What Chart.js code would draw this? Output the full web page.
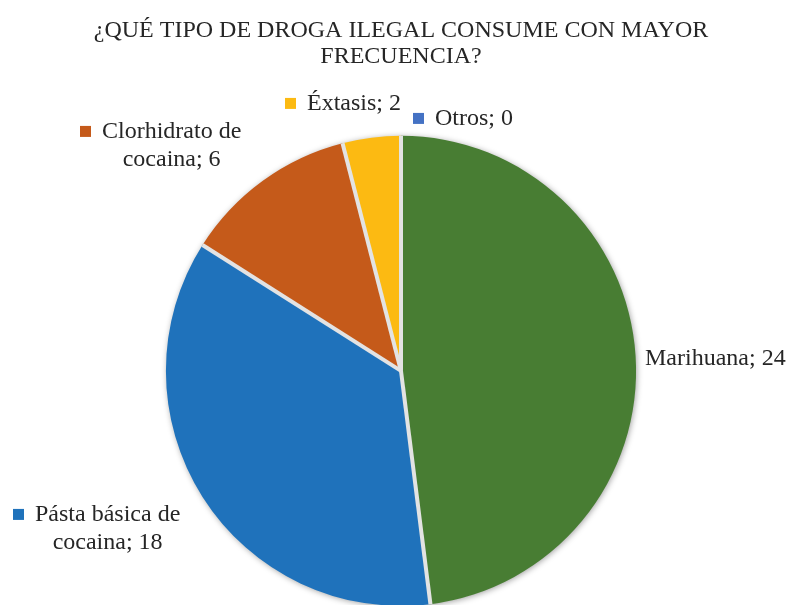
<!DOCTYPE html>
<html>
<head>
<meta charset="utf-8">
<script src="https://cdn.jsdelivr.net/npm/chart.js@4.4.0/dist/chart.umd.min.js"></script>
<style>
    html, body { margin: 0; padding: 0; background: #ffffff; overflow: hidden; }
    #wrap { width: 790px; height: 620px; }
</style>
</head>
<body>
<div id="wrap"><canvas id="pieChart"></canvas></div>
<script>
const titleLines = ['¿QUÉ TIPO DE DROGA ILEGAL CONSUME CON MAYOR', 'FRECUENCIA?'];
const categories = ['Marihuana', 'Pásta básica de cocaina', 'Clorhidrato de cocaina', 'Éxtasis', 'Otros'];
const values = [24, 18, 6, 2, 0];
const colors = ['#487d33', '#1f72bb', '#c55a1a', '#fcba12', '#4472c4'];

// where each label block sits, offset from the pie centre
const labelLayout = [
    { dx: 244, dy: -12, key: false },
    { dx: -388, dy: 144, key: true },
    { dx: -321, dy: -239, key: true },
    { dx: -116, dy: -267, key: true },
    { dx: 12, dy: -252, key: true }
];

const textColor = '#262626';
const gapColor = '#e3e3e3';
const serif = '"Liberation Serif", "Times New Roman", serif';
const labelFont = '24px ' + serif;

function labelLines(name, value) {
    const i = name.indexOf(' de ');
    if (i < 0) return [`${name}; ${value}`];
    return [name.slice(0, i + 3), `${name.slice(i + 4)}; ${value}`];
}

// soft shadow under the pie, light grey gaps between the slices
const pieFrame = {
    id: 'pieFrame',
    beforeDatasetsDraw(chart) {
        const arc = chart.getDatasetMeta(0).data[0];
        const ctx = chart.ctx;
        ctx.save();
        ctx.shadowColor = 'rgba(0,0,0,0.4)';
        ctx.shadowBlur = 6;
        ctx.shadowOffsetX = 1;
        ctx.shadowOffsetY = 1;
        ctx.fillStyle = gapColor;
        ctx.beginPath();
        ctx.arc(arc.x, arc.y, arc.outerRadius - 0.5, 0, Math.PI * 2);
        ctx.fill();
        ctx.restore();
    },
    afterDatasetsDraw(chart) {
        const ctx = chart.ctx;
        ctx.save();
        ctx.strokeStyle = gapColor;
        ctx.lineWidth = 4;
        chart.getDatasetMeta(0).data.forEach((arc, i) => {
            if (!values[i]) return;
            ctx.beginPath();
            ctx.moveTo(arc.x, arc.y);
            ctx.lineTo(arc.x + Math.cos(arc.startAngle) * arc.outerRadius,
                       arc.y + Math.sin(arc.startAngle) * arc.outerRadius);
            ctx.stroke();
        });
        ctx.restore();
    }
};

const outsideLabels = {
    id: 'outsideLabels',
    afterDraw(chart) {
        const ctx = chart.ctx;
        const arc = chart.getDatasetMeta(0).data[0];
        const cx = arc.x, cy = arc.y;
        ctx.save();
        ctx.font = labelFont;
        ctx.textBaseline = 'middle';
        categories.forEach((name, i) => {
            const pos = labelLayout[i];
            const lines = labelLines(name, values[i]);
            let x = cx + pos.dx;
            const y = cy + pos.dy;
            if (pos.key) {
                ctx.fillStyle = colors[i];
                ctx.fillRect(x, y - 6, 11, 11);
                x += 22;
            }
            ctx.fillStyle = textColor;
            ctx.textAlign = 'left';
            ctx.fillText(lines[0], x, y);
            if (lines[1]) {
                const w = ctx.measureText(lines[0]).width;
                ctx.textAlign = 'center';
                ctx.fillText(lines[1], x + w / 2, y + 28);
            }
        });
        ctx.restore();
    }
};

const ctx = document.getElementById('pieChart').getContext('2d');
new Chart(ctx, {
    type: 'pie',
    data: {
        labels: categories,
        datasets: [{
            data: values,
            backgroundColor: colors,
            borderWidth: 0
        }]
    },
    options: {
        responsive: true,
        maintainAspectRatio: false,
        animation: false,
        layout: {
            padding: { top: 8, bottom: 14, left: 12, right: 0 }
        },
        plugins: {
            legend: { display: false },
            tooltip: { enabled: false },
            title: {
                display: true,
                text: titleLines,
                color: textColor,
                font: { family: serif, size: 24, weight: 'normal', lineHeight: 1.08 },
                padding: { top: 10, bottom: 66 }
            }
        }
    },
    plugins: [pieFrame, outsideLabels]
});
</script>
</body>
</html>
